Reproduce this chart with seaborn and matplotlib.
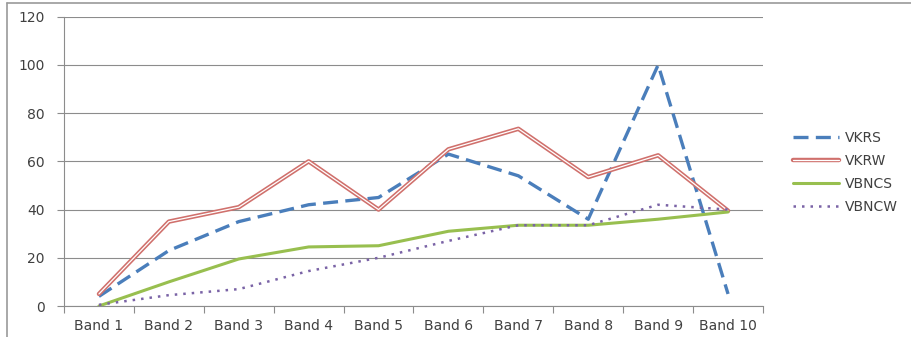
import matplotlib
matplotlib.use("Agg")
import matplotlib.pyplot as plt
import matplotlib.patheffects as pe
from matplotlib.lines import Line2D
import seaborn as sns

# Category labels and series values
bands = ["Band 1", "Band 2", "Band 3", "Band 4", "Band 5",
         "Band 6", "Band 7", "Band 8", "Band 9", "Band 10"]
vkrs = [4, 23, 35, 42, 45, 63, 54, 36, 100, 5]
vkrw = [5, 35, 41, 60, 40, 65, 73.5, 53.5, 62.5, 39.5]
vbncs = [0, 10, 19.5, 24.5, 25, 31, 33.5, 33.5, 36, 39]
vbncw = [0.5, 4.5, 7, 14.5, 20, 27, 33.5, 33.5, 42, 40]

sns.set_theme(style="white")
plt.rcParams["font.family"] = ["DejaVu Sans"]

fig = plt.figure(figsize=(9.12, 3.37), dpi=100)
ax = fig.add_axes([64 / 912, 1 - 306 / 337, (763 - 64) / 912, (306 - 16.7) / 337])

grid_c = "#8c8c8c"
ax.set_ylim(0, 120)
ax.set_yticks(range(0, 121, 20))
ax.set_axisbelow(True)
ax.yaxis.grid(True, color=grid_c, linewidth=0.8)
ax.xaxis.grid(False)

sns.lineplot(x=bands, y=vkrs, ax=ax, sort=False, color="#4a7ebb",
             linewidth=2.4, linestyle=(0, (4.5, 2.2)), label="VKRS")
sns.lineplot(x=bands, y=vkrw, ax=ax, sort=False, color="white",
             linewidth=0.9, label="VKRW",
             path_effects=[pe.Stroke(linewidth=3.2, foreground="#d0706c"), pe.Normal()])
sns.lineplot(x=bands, y=vbncs, ax=ax, sort=False, color="#98bf4f",
             linewidth=2.2, label="VBNCS")
sns.lineplot(x=bands, y=vbncw, ax=ax, sort=False, color="#7a63a6",
             linewidth=1.8, linestyle=(0, (1, 2.4)), label="VBNCW")

ax.set_xlim(-0.5, len(bands) - 0.5)
ax.set_xlabel("")
ax.set_ylabel("")

# Tick marks sit between categories, labels at category centres
ax.set_xticks(range(len(bands)))
ax.set_xticklabels(bands)
ax.set_xticks([i - 0.5 for i in range(len(bands) + 1)], minor=True)
ax.tick_params(axis="x", which="major", length=0, pad=9, labelsize=10, colors="#404040")
ax.tick_params(axis="x", which="minor", length=5, width=0.8, color=grid_c, bottom=True)
ax.tick_params(axis="y", which="major", length=5, width=0.8, color=grid_c, left=True,
               pad=9, labelsize=10, labelcolor="#404040")

for side in ["top", "right"]:
    ax.spines[side].set_visible(False)
for side in ["left", "bottom"]:
    ax.spines[side].set_color(grid_c)
    ax.spines[side].set_linewidth(0.8)

ax.legend(loc="upper left", bbox_to_anchor=(786 / 912, 1 - 124 / 337),
          bbox_transform=fig.transFigure, frameon=False, borderpad=0,
          handlelength=3.3, handletextpad=0.45, labelspacing=0.64,
          fontsize=10, labelcolor="#404040")

# Outer chart frame
fig.add_artist(Line2D([7 / 912, 1], [1 - 3 / 337, 1 - 3 / 337],
                      transform=fig.transFigure, color="#9a9a9a", linewidth=1.2))
fig.add_artist(Line2D([7 / 912, 7 / 912], [0, 1 - 3 / 337],
                      transform=fig.transFigure, color="#9a9a9a", linewidth=1.2))

fig.savefig("out.png", dpi=100)
